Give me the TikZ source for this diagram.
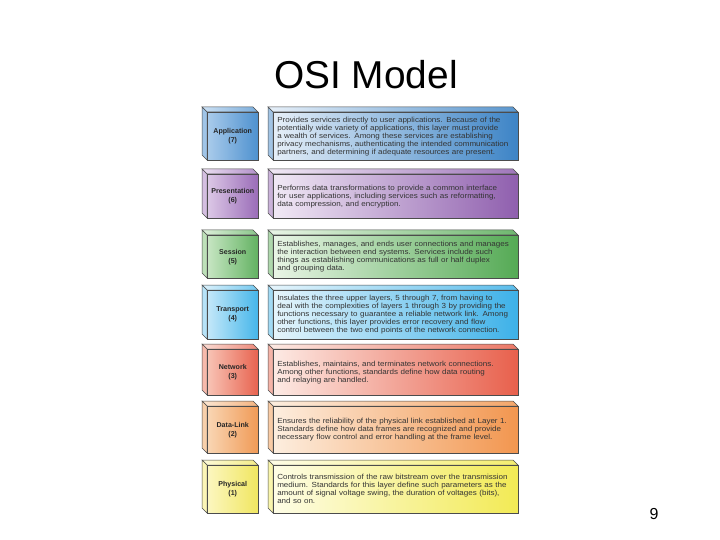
\documentclass[tikz,border=0pt]{standalone}
\usepackage{fontspec}
\setmainfont{Liberation Sans}
\newfontfamily\descfont[FakeStretch=1.09]{Liberation Sans}
\definecolor{appA}{HTML}{A9CBEB}\definecolor{appB}{HTML}{4E91CF}
\definecolor{appC}{HTML}{E6EFF8}\definecolor{appD}{HTML}{3D84C6}
\definecolor{preA}{HTML}{DCC8E6}\definecolor{preB}{HTML}{9A6CB8}
\definecolor{preC}{HTML}{F1E9F5}\definecolor{preD}{HTML}{8F5FAE}
\definecolor{sesA}{HTML}{C8E6C3}\definecolor{sesB}{HTML}{62B262}
\definecolor{sesC}{HTML}{E9F5E6}\definecolor{sesD}{HTML}{55AA55}
\definecolor{traA}{HTML}{C4E8F9}\definecolor{traB}{HTML}{45B6EA}
\definecolor{traC}{HTML}{E6F5FC}\definecolor{traD}{HTML}{3DB1E8}
\definecolor{netA}{HTML}{F8C4B6}\definecolor{netB}{HTML}{E8634F}
\definecolor{netC}{HTML}{FDEAE4}\definecolor{netD}{HTML}{E8604C}
\definecolor{dliA}{HTML}{F9D6B4}\definecolor{dliB}{HTML}{F09A56}
\definecolor{dliC}{HTML}{FDEEDF}\definecolor{dliD}{HTML}{F2964F}
\definecolor{phyA}{HTML}{FCF7C0}\definecolor{phyB}{HTML}{F0E660}
\definecolor{phyC}{HTML}{FEFDE6}\definecolor{phyD}{HTML}{F2EA55}
\tikzset{
  face/.style={draw=black!70, line width=0.5bp},
  front/.style={draw=black!70, line width=0.5bp, rectangle, anchor=north west, inner sep=0pt},
  lbl/.style={front, minimum width=51bp, align=center, font=\fontsize{7.1}{9}\selectfont\bfseries, text=black!85},
  desc/.style={front, minimum width=245bp, inner xsep=4bp, text width=237bp, align=left, font=\descfont\fontsize{7.4}{8}\selectfont, text=black!80},
}
\newcommand\osilayer[9]{%
  \pgfmathsetmacro\yt{#2}\pgfmathsetmacro\yf{#2+5}%
  \pgfmathsetmacro\yb{#3}\pgfmathsetmacro\ybb{#3-5}\pgfmathsetmacro\hh{#3-#2-5}%
  \shadedraw[face, left color=#4!60!white, right color=#5!75!white] (202,\yt) -- (253,\yt) -- (258,\yf) -- (207,\yf) -- cycle;
  \filldraw[face, fill=#4!90!#5] (202,\yt) -- (207,\yf) -- (207,\yb) -- (202,\ybb) -- cycle;
  \node[lbl, left color=#4, right color=#5, minimum height=\hh bp] (#1-l) at (207,\yf) {#8};
  \shadedraw[face, left color=#6, right color=#7!85!white] (268,\yt) -- (513,\yt) -- (518,\yf) -- (273,\yf) -- cycle;
  \filldraw[face, fill=#6!60!#7] (268,\yt) -- (273,\yf) -- (273,\yb) -- (268,\ybb) -- cycle;
  \node[desc, left color=#6, right color=#7, minimum height=\hh bp] (#1-t) at (273,\yf) {#9};
}
\begin{document}
\begin{tikzpicture}[x=1bp,y=-1bp]
\fill[white] (0,0) rectangle (720,540);
\useasboundingbox (0,0) rectangle (720,540);
\node[anchor=base, font=\fontsize{39}{42}\selectfont] (title) at (366,89) {OSI Model};
\osilayer{app}{107}{160}{appA}{appB}{appC}{appD}{Application\\(7)}{Provides services directly to user applications. Because of the\\potentially wide variety of applications, this layer must provide\\a wealth of services. Among these services are establishing\\privacy mechanisms, authenticating the intended communication\\partners, and determining if adequate resources are present.}
\osilayer{pre}{169}{218}{preA}{preB}{preC}{preD}{Presentation\\(6)}{Performs data transformations to provide a common interface\\for user applications, including services such as reformatting,\\data compression, and encryption.}
\osilayer{ses}{230}{278}{sesA}{sesB}{sesC}{sesD}{Session\\(5)}{Establishes, manages, and ends user connections and manages\\the interaction between end systems. Services include such\\things as establishing communications as full or half duplex\\and grouping data.}
\osilayer{tra}{285}{339}{traA}{traB}{traC}{traD}{Transport\\(4)}{Insulates the three upper layers, 5 through 7, from having to\\deal with the complexities of layers 1 through 3 by providing the\\functions necessary to guarantee a reliable network link. Among\\other functions, this layer provides error recovery and flow\\control between the two end points of the network connection.}
\osilayer{net}{344}{395}{netA}{netB}{netC}{netD}{Network\\(3)}{Establishes, maintains, and terminates network connections.\\Among other functions, standards define how data routing\\and relaying are handled.}
\osilayer{dli}{401}{453}{dliA}{dliB}{dliC}{dliD}{Data-Link\\(2)}{Ensures the reliability of the physical link established at Layer 1.\\Standards define how data frames are recognized and provide\\necessary flow control and error handling at the frame level.}
\osilayer{phy}{460}{513}{phyA}{phyB}{phyC}{phyD}{Physical\\(1)}{Controls transmission of the raw bitstream over the transmission\\medium. Standards for this layer define such parameters as the\\amount of signal voltage swing, the duration of voltages (bits),\\and so on.}
\node[font=\fontsize{16}{18}\selectfont] (pagenum) at (654,514) {9};
\end{tikzpicture}
\end{document}
